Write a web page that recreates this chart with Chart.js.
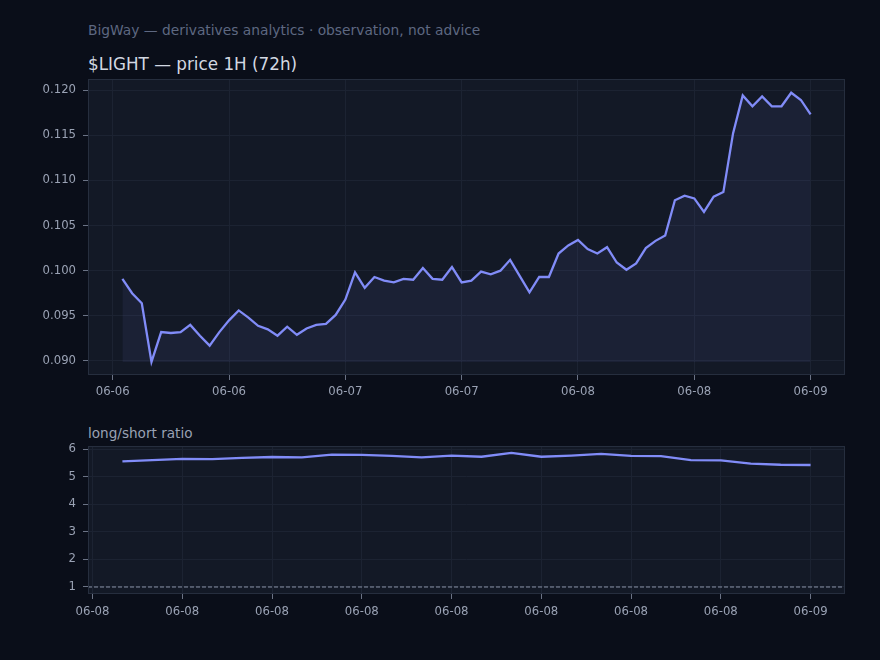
<!DOCTYPE html>
<html>
<head>
<meta charset="utf-8">
<script src="https://cdn.jsdelivr.net/npm/chart.js@4.4.1/dist/chart.umd.min.js"></script>
<style>
  html, body { margin: 0; padding: 0; background: #0a0e19; width: 880px; height: 660px; overflow: hidden; }
  body { position: relative; font-family: "DejaVu Sans", sans-serif; }
  .txt { position: absolute; left: 88px; line-height: 1; white-space: nowrap; }
  #sub { top: 23.5px; font-size: 13.8px; color: #5e6881; }
  #ttl { top: 56px; font-size: 16.8px; color: #d3d8e2; }
  #lbl { top: 427px; font-size: 13.6px; color: #9aa2b4; }
  canvas { position: absolute; left: 0; }
  #priceChart { top: 0; }
  #ratioChart { top: 400px; }
</style>
</head>
<body>
<div class="txt" id="sub">BigWay — derivatives analytics · observation, not advice</div>
<div class="txt" id="ttl">$LIGHT — price 1H (72h)</div>
<div class="txt" id="lbl">long/short ratio</div>
<canvas id="priceChart" width="880" height="400"></canvas>
<canvas id="ratioChart" width="880" height="260"></canvas>
<script>
// precio 1H, 72 velas (horas desde 06-06 00:00, primera vela 01:00)
const priceValues = [
  0.0991, 0.0975, 0.0964, 0.0899, 0.0932, 0.0931, 0.0932, 0.0940, 0.0928, 0.0917,
  0.0932, 0.0945, 0.0956, 0.0948, 0.0939, 0.0935, 0.0928, 0.0938, 0.0929, 0.0936,
  0.0940, 0.0941, 0.0951, 0.0968, 0.0998, 0.0981, 0.0993, 0.0989, 0.0987, 0.0991,
  0.0990, 0.1003, 0.0991, 0.0990, 0.1004, 0.0987, 0.0989, 0.0999, 0.0996, 0.1000,
  0.1012, 0.0994, 0.0976, 0.0993, 0.0993, 0.1019, 0.1028, 0.1034, 0.1024, 0.1019,
  0.1026, 0.1009, 0.1001, 0.1008, 0.1025, 0.1033, 0.1039, 0.1078, 0.1083, 0.1080,
  0.1065, 0.1082, 0.1087, 0.1152, 0.1194, 0.1182, 0.1193, 0.1182, 0.1182, 0.1197,
  0.1189, 0.1173
];
const priceHours = priceValues.map((v, i) => i + 1);
const priceTickHours = [0, 12, 24, 36, 48, 60, 72];
const priceTickLabels = ['06-06', '06-06', '06-07', '06-07', '06-08', '06-08', '06-09'];
const priceYTicks = [0.090, 0.095, 0.100, 0.105, 0.110, 0.115, 0.120];

// long/short ultimas 24h (horas desde 06-08 00:00)
const ratioValues = [
  5.55, 5.60, 5.64, 5.63, 5.68, 5.71, 5.70, 5.80, 5.79, 5.75,
  5.70, 5.76, 5.72, 5.86, 5.72, 5.76, 5.82, 5.75, 5.74, 5.60,
  5.59, 5.47, 5.43, 5.42
];
const ratioHours = ratioValues.map((v, i) => i + 1);
const ratioTickHours = [0, 3, 6, 9, 12, 15, 18, 21, 24];
const ratioTickLabels = ['06-08', '06-08', '06-08', '06-08', '06-08', '06-08', '06-08', '06-08', '06-09'];
const ratioYTicks = [1, 2, 3, 4, 5, 6];
const ratioRef = 1;

const LINE = '#818cf8';
const TICK_TXT = '#9aa2b4';

Chart.defaults.font.family = '"DejaVu Sans", sans-serif';
Chart.defaults.font.size = 11.7;
Chart.defaults.color = TICK_TXT;

// fondo y marco del area de dibujo
const framePlugin = {
  id: 'frame',
  beforeDraw(chart) {
    const a = chart.chartArea, c = chart.ctx;
    c.save();
    c.fillStyle = '#131926';
    c.fillRect(a.left, a.top, a.right - a.left, a.bottom - a.top);
    c.restore();
  },
  afterDraw(chart) {
    const a = chart.chartArea, c = chart.ctx;
    c.save();
    c.strokeStyle = '#262e3e';
    c.lineWidth = 1;
    c.strokeRect(a.left + 0.5, a.top + 0.5, a.right - a.left - 1, a.bottom - a.top - 1);
    c.restore();
  }
};

function axisX(min, max, tickVals, tickLabels, height, pad) {
  return {
    type: 'linear', min: min, max: max,
    afterBuildTicks: s => { s.ticks = tickVals.map(v => ({ value: v })); },
    afterFit: s => { s.height = height; },
    ticks: { callback: (v, i) => tickLabels[i], maxRotation: 0, autoSkip: false, padding: pad, color: TICK_TXT },
    grid: { color: '#1c2332', tickColor: '#6b7385', tickLength: 5 },
    border: { display: false }
  };
}

function axisY(min, max, tickVals, fmt) {
  return {
    min: min, max: max,
    afterBuildTicks: s => { s.ticks = tickVals.map(v => ({ value: v })); },
    afterFit: s => { s.width = 88; },
    ticks: { callback: v => fmt(v), padding: 7, color: TICK_TXT },
    grid: { color: '#1c2332', tickColor: '#6b7385', tickLength: 5 },
    border: { display: false }
  };
}

const baseOpts = {
  responsive: false,
  animation: false,
  plugins: { legend: { display: false }, tooltip: { enabled: false } },
  elements: { point: { radius: 0 }, line: { tension: 0 } }
};

new Chart(document.getElementById('priceChart'), {
  type: 'line',
  data: {
    datasets: [{
      data: priceHours.map((h, i) => ({ x: h, y: priceValues[i] })),
      borderColor: LINE,
      borderWidth: 2.3,
      fill: { value: Math.min(...priceValues) },
      backgroundColor: 'rgba(129,140,248,0.075)'
    }]
  },
  options: Object.assign({}, baseOpts, {
    layout: { padding: { top: 79, right: 35, left: 0, bottom: 0 } },
    scales: {
      x: axisX(-2.55, 75.55, priceTickHours, priceTickLabels, 25, 5),
      y: axisY(0.08845, 0.12122, priceYTicks, v => v.toFixed(3))
    }
  }),
  plugins: [framePlugin]
});

new Chart(document.getElementById('ratioChart'), {
  type: 'line',
  data: {
    datasets: [{
      data: ratioHours.map((h, i) => ({ x: h, y: ratioValues[i] })),
      borderColor: LINE,
      borderWidth: 2.3,
      fill: false
    }, {
      // linea de referencia 1.0
      data: [{ x: -0.15, y: ratioRef }, { x: 25.15, y: ratioRef }],
      borderColor: '#8a93a6',
      borderWidth: 1,
      borderDash: [4, 2],
      fill: false
    }]
  },
  options: Object.assign({}, baseOpts, {
    layout: { padding: { top: 46, right: 35, left: 0, bottom: 0 } },
    scales: {
      x: axisX(-0.15, 25.15, ratioTickHours, ratioTickLabels, 66, 6),
      y: axisY(0.746, 6.109, ratioYTicks, v => String(v))
    }
  }),
  plugins: [framePlugin]
});
</script>
</body>
</html>
